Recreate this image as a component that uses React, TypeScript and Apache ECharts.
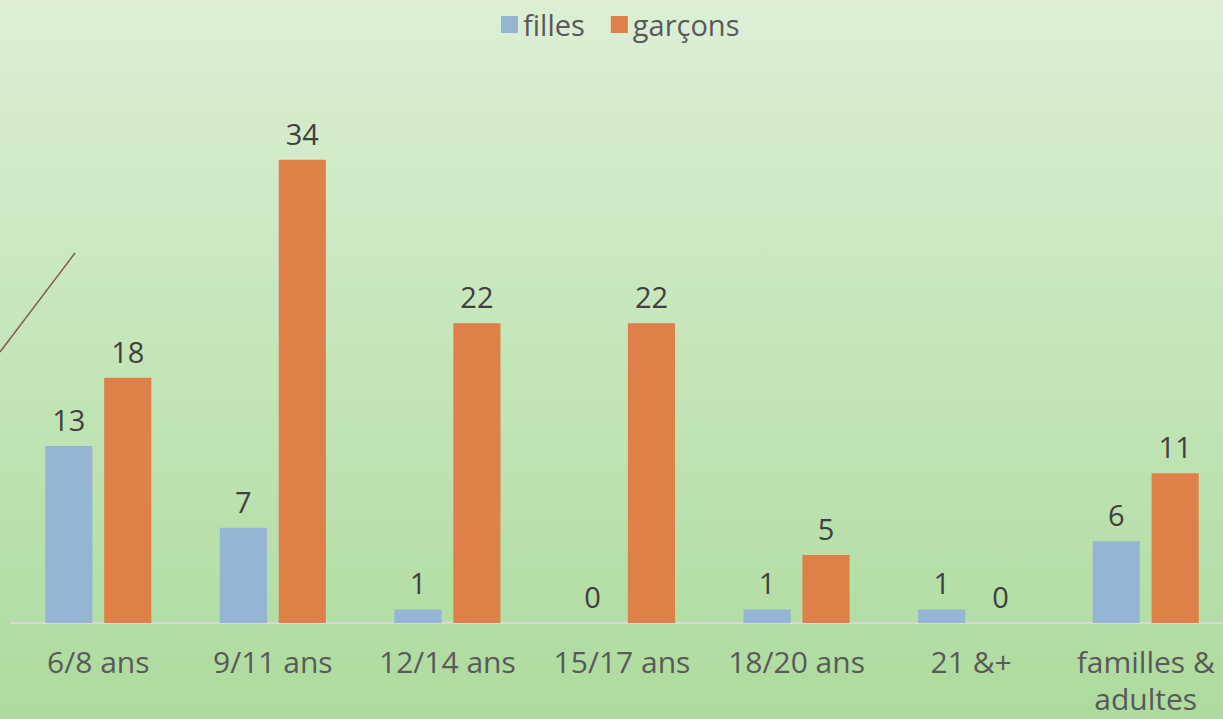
import React, { useEffect, useRef } from "react";
import * as echarts from "echarts";

const categories = ["6/8 ans", "9/11 ans", "12/14 ans", "15/17 ans", "18/20 ans", "21 &+", "familles &\nadultes"];
const filles = [13, 7, 1, 0, 1, 1, 6];
const garcons = [18, 34, 22, 22, 5, 0, 11];

const FONT = "'Open Sans', Lato, sans-serif";

export default function App() {
  const ref = useRef<HTMLDivElement>(null);
  useEffect(() => {
    const chart = echarts.init(ref.current!, null, { renderer: "svg" });
    chart.setOption({
      animation: false,
      backgroundColor: new echarts.graphic.LinearGradient(0, 0, 0, 1, [
        { offset: 0, color: "#dcefd5" },
        { offset: 1, color: "#addb9d" },
      ]),
      legend: {
        top: 5,
        left: 496,
        itemWidth: 17,
        itemHeight: 17,
        itemGap: 26,
        icon: "rect",
        textStyle: { fontFamily: FONT, fontSize: 29, color: "#595959" },
        data: ["filles", "garçons"],
      },
      grid: {
        left: 11,
        width: 1222,
        top: 78,
        height: 545,
        containLabel: false,
        outerBoundsMode: "none",
      },
      xAxis: {
        type: "category",
        data: categories,
        axisLine: { lineStyle: { color: "#d9d9d9", width: 2 } },
        axisTick: { show: false },
        axisLabel: {
          fontFamily: FONT,
          fontSize: 30,
          color: "#595959",
          margin: 20,
          lineHeight: 37,
          interval: 0,
        },
      },
      yAxis: {
        type: "value",
        min: 0,
        max: 40,
        show: false,
        splitLine: { show: false },
      },
      series: [
        {
          name: "filles",
          type: "bar",
          data: filles,
          barWidth: "27%",
          barGap: "25%",
          itemStyle: { color: "#95b5d4" },
          label: { show: true, position: "top", distance: 12, fontFamily: FONT, fontSize: 29, color: "#404040" },
        },
        {
          name: "garçons",
          type: "bar",
          data: garcons,
          barWidth: "27%",
          itemStyle: { color: "#df8048" },
          label: { show: true, position: "top", distance: 12, fontFamily: FONT, fontSize: 29, color: "#404040" },
        },
      ],
      graphic: [
        {
          type: "line",
          shape: { x1: 0, y1: 352, x2: 75, y2: 253 },
          style: { stroke: "#7d5f52", lineWidth: 1.5 },
        },
      ],
    });
    return () => chart.dispose();
  }, []);
  return <div ref={ref} style={{ width: 1223, height: 719, position: "fixed", left: 0, top: 0 }} />;
}
